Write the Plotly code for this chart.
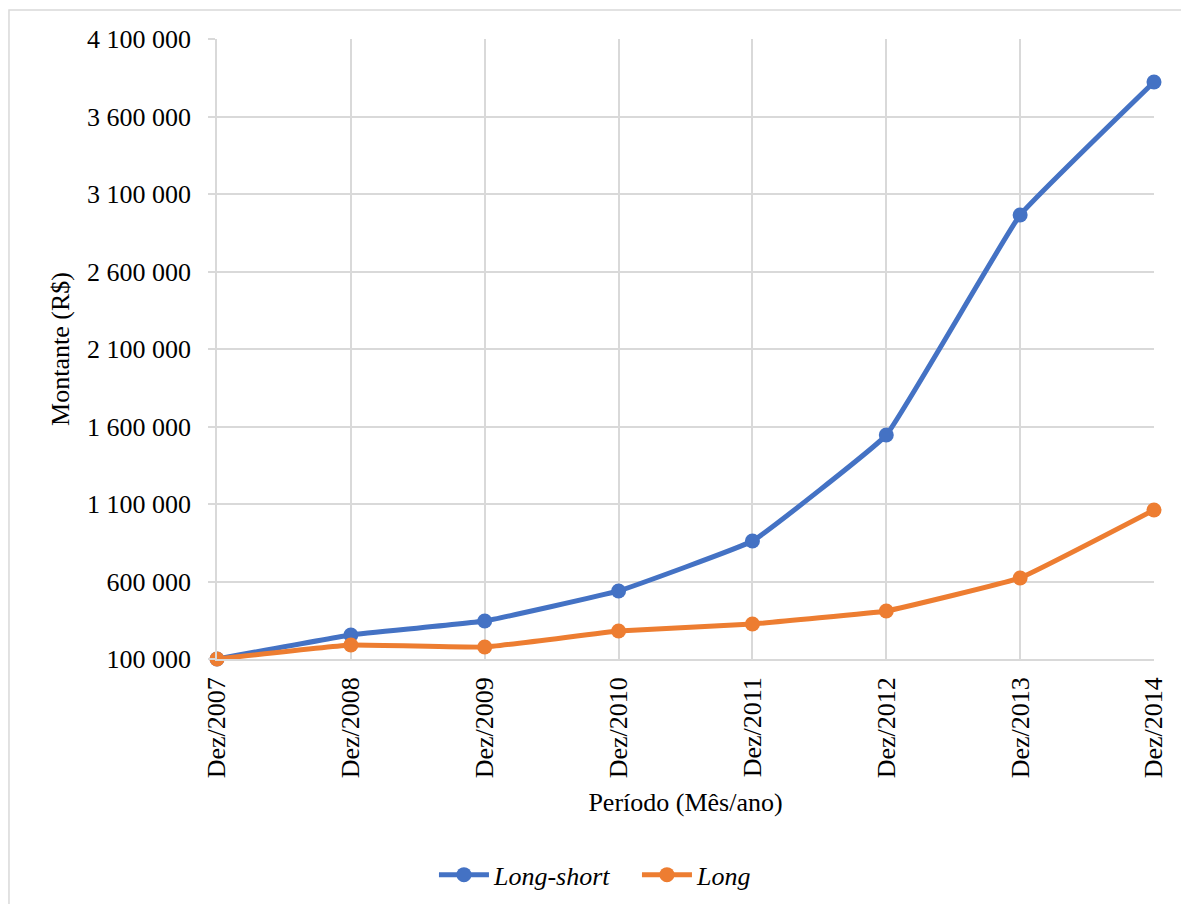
import plotly.graph_objects as go

periods = ["Dez/2007", "Dez/2008", "Dez/2009", "Dez/2010", "Dez/2011", "Dez/2012", "Dez/2013", "Dez/2014"]
long_short = [100000, 255000, 345000, 539000, 861000, 1545000, 2965000, 3823000]
long_only = [100000, 190000, 177000, 281000, 326000, 410000, 623000, 1061000]

FONT = "Times New Roman, Liberation Serif, DejaVu Serif, serif"
GRID = "#D9D9D9"

fig = go.Figure()
fig.add_trace(go.Scatter(
    x=periods, y=long_short, name="<i>Long-short</i>", mode="lines+markers",
    line=dict(color="#4472C4", width=5, shape="spline", smoothing=0.25),
    marker=dict(size=15, color="#4472C4"), cliponaxis=False))
fig.add_trace(go.Scatter(
    x=periods, y=long_only, name="<i>Long</i>", mode="lines+markers",
    line=dict(color="#ED7D31", width=5, shape="spline", smoothing=0.25),
    marker=dict(size=15, color="#ED7D31"), cliponaxis=False))

fig.update_layout(
    width=1181, height=904,
    margin=dict(l=217, r=27, t=39, b=245, autoexpand=False),
    paper_bgcolor="white", plot_bgcolor="white",
    font=dict(family=FONT, size=26, color="black"),
    separators=", ",
    showlegend=True,
    legend=dict(orientation="h", x=0.4482, xanchor="center", y=-0.348, yanchor="middle",
                font=dict(family=FONT, size=26), itemwidth=50,
                entrywidth=138, entrywidthmode="pixels"),
    shapes=[dict(type="rect", xref="paper", yref="paper", x0=-0.222, x1=1.2,
                 y0=-0.6, y1=1.0468, line=dict(color=GRID, width=1.5), layer="below")],
)
fig.update_xaxes(
    type="category", range=[0, 7], showgrid=True, gridcolor=GRID, gridwidth=1.5,
    showline=True, linecolor=GRID, linewidth=1.5, tickangle=-90, ticks="",
    ticklabelstandoff=6, tickfont=dict(family=FONT, size=26), automargin=False,
    title=dict(text="Período (Mês/ano)", standoff=16, font=dict(family=FONT, size=26)),
)
fig.update_yaxes(
    range=[100000, 4100000], tick0=100000, dtick=500000, tickformat=",d",
    showgrid=True, gridcolor=GRID, gridwidth=1.5, showline=True, linecolor=GRID,
    linewidth=1.5, ticks="outside", ticklen=7, tickcolor=GRID, tickwidth=1.5,
    ticklabelstandoff=12, tickfont=dict(family=FONT, size=26), zeroline=False,
    automargin=False,
    title=dict(text="Montante (R$)", standoff=10, font=dict(family=FONT, size=26)),
)

fig.write_html("out.html")
